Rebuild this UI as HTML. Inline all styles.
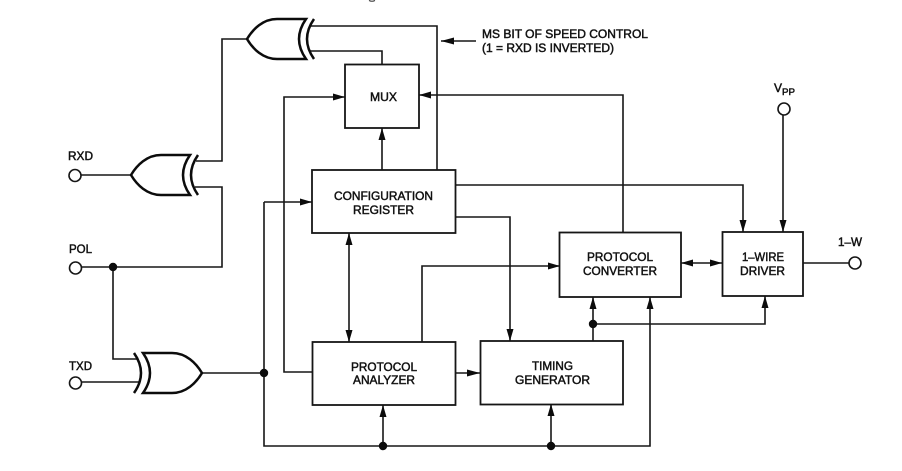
<!DOCTYPE html>
<html>
<head>
<meta charset="utf-8">
<style>
html,body{margin:0;padding:0;background:#fff;width:902px;height:471px;overflow:hidden}
svg{display:block}
text{font-family:"Liberation Sans",sans-serif;font-size:11.5px;fill:#111;stroke:#111;stroke-width:.45px}
.l{fill:none;stroke:#161616;stroke-width:1.6}
.b{fill:#fff;stroke:#161616;stroke-width:1.8}
.g{fill:#fff;stroke:#0c0c0c;stroke-width:2.5}
.a{fill:none;stroke:#0c0c0c;stroke-width:2.5}
.c{fill:#fff;stroke:#161616;stroke-width:1.6}
.d{fill:#0c0c0c;stroke:none}
.h{fill:#0c0c0c;stroke:none}
</style>
</head>
<body>
<svg width="902" height="471" viewBox="0 0 902 471" xmlns="http://www.w3.org/2000/svg">
<rect width="902" height="471" fill="#fff"/>
<path d="M369 0.500Q372 2 375 0.500" fill="none" stroke="#333" stroke-width="1"/>

<!-- connectors -->
<path class="l" d="M247 39H222V161H196"/>
<path class="l" d="M311 26H437V170"/>
<path class="l" d="M309 51H382V64"/>
<path class="l" d="M81 175H131"/>
<path class="l" d="M195 187H222V267H81"/>
<path class="l" d="M113 267V359H138"/>
<path class="l" d="M81 382H139"/>
<path class="l" d="M202 373H264"/>
<path class="l" d="M264 202V446H650V297"/>
<path class="l" d="M264 202H312"/>
<path class="l" d="M312 372H284V97H345"/>
<path class="l" d="M382 170V128"/>
<path class="l" d="M349 233V342"/>
<path class="l" d="M383 446V405"/>
<path class="l" d="M551 446V404"/>
<path class="l" d="M422 342V266H560"/>
<path class="l" d="M456 373H480"/>
<path class="l" d="M455 217H510V341"/>
<path class="l" d="M455 185H743V232"/>
<path class="l" d="M623 232V95H419"/>
<path class="l" d="M783 115V232"/>
<path class="l" d="M681 263H722"/>
<path class="l" d="M803 263H849"/>
<path class="l" d="M593 341V297"/>
<path class="l" d="M593 324H765V296"/>
<path class="l" d="M476 41H441"/>

<!-- boxes -->
<rect class="b" x="345" y="64.500" width="74" height="63.500"/>
<rect class="b" x="312" y="170" width="143.500" height="63"/>
<rect class="b" x="312.500" y="342" width="143" height="63"/>
<rect class="b" x="480.500" y="341" width="142.500" height="63.500"/>
<rect class="b" x="559.500" y="232.500" width="121.500" height="64.500"/>
<rect class="b" x="722.500" y="232" width="80.500" height="64"/>

<!-- XOR gates -->
<path class="g" d="M306 19H277C263 19 253 29 247 39C253 49 263 59 277 59H306Q292 39 306 19Z"/>
<path class="a" d="M314 19Q300 39 314 59"/>
<path class="g" d="M190 155H161C147 155 137 165 131 175C137 185 147 195 161 195H190Q176 175 190 155Z"/>
<path class="a" d="M198 155Q184 175 198 195"/>
<path class="g" d="M143 353H172C186 353 196 363 202 373C196 383 186 393 172 393H143Q157 373 143 353Z"/>
<path class="a" d="M134 353Q148 373 134 393"/>

<!-- terminals -->
<circle class="c" cx="75" cy="175.500" r="6"/>
<circle class="c" cx="75.500" cy="268" r="6"/>
<circle class="c" cx="75.500" cy="383" r="6"/>
<circle class="c" cx="784" cy="109" r="6"/>
<circle class="c" cx="855" cy="263" r="6"/>

<!-- junctions -->
<circle class="d" cx="113" cy="267" r="4.200"/>
<circle class="d" cx="264" cy="373" r="4.200"/>
<circle class="d" cx="383" cy="446" r="4.200"/>
<circle class="d" cx="551" cy="446" r="4.200"/>
<circle class="d" cx="593" cy="324" r="4.200"/>

<!-- arrowheads -->
<path class="h" d="M345 97L333 93.500V100.500Z"/>
<path class="h" d="M419 95L431 91.500V98.500Z"/>
<path class="h" d="M312 202L300 198.500V205.500Z"/>
<path class="h" d="M382 128L378.500 140H385.500Z"/>
<path class="h" d="M349 233L345.500 245H352.500Z"/>
<path class="h" d="M349 342L345.500 330H352.500Z"/>
<path class="h" d="M383 405L379.500 417H386.500Z"/>
<path class="h" d="M551 404L547.500 416H554.500Z"/>
<path class="h" d="M560 266L548 262.500V269.500Z"/>
<path class="h" d="M480 373L467 369.500V376.500Z"/>
<path class="h" d="M510 341L506.500 329H513.500Z"/>
<path class="h" d="M743 232L739.500 220H746.500Z"/>
<path class="h" d="M783 232L779.500 220H786.500Z"/>
<path class="h" d="M681 263L693 259.500V266.500Z"/>
<path class="h" d="M722 263L710 259.500V266.500Z"/>
<path class="h" d="M593 297L589.500 309H596.500Z"/>
<path class="h" d="M650 297L646.500 309H653.500Z"/>
<path class="h" d="M765 296L761.500 308H768.500Z"/>
<path class="h" d="M441 41L454 37.500V44.500Z"/>

<!-- labels -->
<text x="482" y="38" textLength="166" lengthAdjust="spacingAndGlyphs">MS BIT OF SPEED CONTROL</text>
<text x="482" y="52" textLength="132" lengthAdjust="spacingAndGlyphs">(1 = RXD IS INVERTED)</text>
<text x="370" y="101" textLength="27" lengthAdjust="spacingAndGlyphs">MUX</text>
<text x="334" y="200" textLength="99" lengthAdjust="spacingAndGlyphs">CONFIGURATION</text>
<text x="353" y="214" textLength="61" lengthAdjust="spacingAndGlyphs">REGISTER</text>
<text x="68" y="160" textLength="25" lengthAdjust="spacingAndGlyphs">RXD</text>
<text x="69" y="253" textLength="23" lengthAdjust="spacingAndGlyphs">POL</text>
<text x="69" y="370" textLength="23" lengthAdjust="spacingAndGlyphs">TXD</text>
<text x="351" y="371" textLength="66" lengthAdjust="spacingAndGlyphs">PROTOCOL</text>
<text x="353" y="384" textLength="62" lengthAdjust="spacingAndGlyphs">ANALYZER</text>
<text x="587" y="261" textLength="66" lengthAdjust="spacingAndGlyphs">PROTOCOL</text>
<text x="583" y="275" textLength="74" lengthAdjust="spacingAndGlyphs">CONVERTER</text>
<text x="742" y="261" textLength="42" lengthAdjust="spacingAndGlyphs">1–WIRE</text>
<text x="740" y="275" textLength="45" lengthAdjust="spacingAndGlyphs">DRIVER</text>
<text x="532" y="370" textLength="41" lengthAdjust="spacingAndGlyphs">TIMING</text>
<text x="515" y="384" textLength="75" lengthAdjust="spacingAndGlyphs">GENERATOR</text>
<text x="838" y="246" textLength="24" lengthAdjust="spacingAndGlyphs">1–W</text>
<text x="774" y="92" textLength="8" lengthAdjust="spacingAndGlyphs">V</text>
<text x="782" y="95" textLength="13" lengthAdjust="spacingAndGlyphs" style="font-size:9.500px">PP</text>
</svg>
</body>
</html>
